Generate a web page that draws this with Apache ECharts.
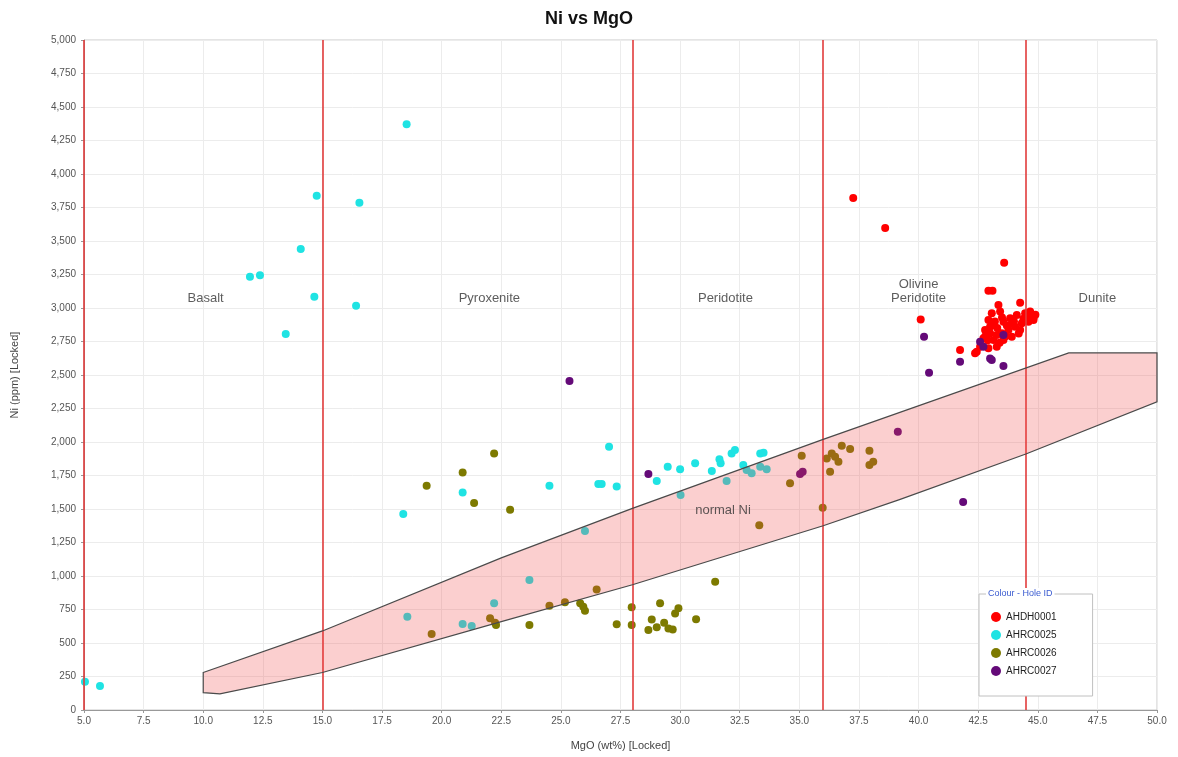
<!DOCTYPE html>
<html>
<head>
<meta charset="utf-8">
<script src="https://cdn.jsdelivr.net/npm/echarts@6/dist/echarts.min.js"></script>
<style>
html,body{margin:0;padding:0;background:#fff;}
#chart{width:1178px;height:757px;}
</style>
</head>
<body>
<div id="chart"></div>
<script>
// ---- data ----
const seriesNames = ['AHDH0001', 'AHRC0025', 'AHRC0026', 'AHRC0027'];

const ahdh0001 = [[37.26,3821],[38.6,3597],[43.59,3338],[42.93,3129],[43.1,3129],[40.09,2915],[44.26,3040],[43.35,3022],[41.74,2687],[43.07,2960],[43.42,2973],[42.93,2910],[43.14,2873],[43.56,2898],[43.84,2923],[44.12,2948],[44.47,2960],[44.68,2973],[44.82,2923],[44.61,2898],[44.33,2886],[44.05,2861],[43.77,2836],[43.49,2811],[43.28,2799],[43.0,2811],[42.79,2836],[42.72,2774],[43.14,2761],[43.56,2761],[43.91,2786],[44.26,2836],[42.58,2711],[42.93,2699],[43.28,2711],[42.44,2674],[42.37,2662],[44.82,2910],[44.9,2950],[43.7,2870],[43.3,2850],[42.9,2760],[44.4,2920],[43.95,2880],[43.5,2930],[44.0,2900],[44.6,2940],[43.2,2900],[42.8,2790],[43.4,2740],[44.2,2810],[44.85,2945],[43.0,2860],[43.65,2790]];

const ahrc0025 = [[5.04,211],[5.67,179],[11.96,3234],[12.38,3245],[13.46,2806],[14.09,3440],[14.66,3084],[14.76,3838],[16.41,3017],[16.55,3786],[18.53,4371],[18.39,1463],[20.88,1624],[24.52,1674],[27.02,1965],[26.57,1687],[26.71,1687],[27.34,1667],[26.01,1336],[23.68,970],[22.20,796],[18.56,696],[20.88,642],[21.26,627],[29.02,1709],[29.48,1816],[30.0,1796],[30.63,1841],[31.33,1784],[31.65,1871],[31.70,1841],[32.16,1915],[32.30,1940],[32.65,1828],[32.79,1791],[33.0,1766],[31.95,1709],[33.36,1915],[33.5,1920],[33.36,1816],[33.63,1796],[30.02,1604]];

const ahrc0026 = [[19.37,1674],[20.88,1773],[21.36,1545],[22.2,1915],[22.87,1495],[19.58,567],[22.03,684],[22.24,651],[22.28,634],[23.68,634],[24.52,778],[25.17,804],[25.81,796],[25.94,771],[26.01,741],[26.5,900],[27.34,639],[27.97,766],[27.97,634],[29.16,796],[28.81,676],[28.67,597],[29.02,617],[29.33,651],[29.51,609],[29.69,600],[29.93,759],[29.79,721],[30.67,677],[31.47,957],[33.32,1378],[34.61,1692],[35.1,1898],[35.98,1510],[36.15,1876],[36.36,1915],[36.50,1890],[36.64,1853],[36.29,1778],[36.78,1972],[37.13,1948],[37.94,1935],[37.94,1828],[38.1,1853]];

const ahrc0027 = [[25.36,2455],[28.67,1761],[35.03,1761],[35.14,1778],[39.13,2077],[41.87,1552],[40.23,2786],[40.44,2517],[41.74,2599],[42.58,2749],[42.72,2711],[43.0,2624],[43.07,2612],[43.56,2567],[43.56,2799]];

// normal Ni envelope
const normalNiUpper = [[10,280],[15,590],[22.5,1135],[28,1505],[36,2020],[46.3,2665],[50,2665]];
const normalNiLower = [[10,130],[10.7,120],[15,280],[22.5,660],[28,935],[36,1375],[39.2,1570],[44.5,1910],[50,2300]];

// rock-type boundaries (MgO wt%)
const boundaries = [5, 15, 28, 36, 44.5];

// zone labels [x, y, text]
const zoneLabels = [[10.1,3075,'Basalt'],[22.0,3075,'Pyroxenite'],[31.9,3075,'Peridotite'],[40.0,3120,'Olivine\nPeridotite'],[47.5,3075,'Dunite'],[31.8,1490,'normal Ni']];

const xMin = 5, xMax = 50, xInterval = 2.5;
const yMin = 0, yMax = 5000, yInterval = 250;

// ---- chart ----
const chart = echarts.init(document.getElementById('chart'), null, {renderer: 'canvas'});
const colors = ['#ff0000', '#1fe3e3', '#7d7a00', '#640a78'];
const font = 'Liberation Sans, Arial, sans-serif';

function scatterSeries(name, data, color) {
  return {
    name: name, type: 'scatter', data: data, symbol: 'circle', symbolSize: 8,
    itemStyle: {color: color, opacity: 1}, z: 3
  };
}

const polygonPts = normalNiUpper.concat(normalNiLower.slice().reverse());

const option = {
  animation: false,
  backgroundColor: '#fff',
  textStyle: {fontFamily: font},
  title: [
    {text: 'Ni vs MgO', left: 'center', top: 5, textStyle: {fontSize: 18, fontWeight: 'bold', color: '#111', fontFamily: font}},
    {text: 'Colour - Hole ID', left: 986, top: 588, z: 20, backgroundColor: '#fff', padding: [1, 2],
     textStyle: {fontSize: 9, fontWeight: 'normal', color: '#3a5bd0', fontFamily: font}}
  ],
  grid: {left: 84, right: 21, top: 40, bottom: 47, show: true, borderColor: '#c8c8c8', borderWidth: 1},
  legend: {
    data: seriesNames, orient: 'vertical', left: 979, top: 594,
    padding: [18, 36, 20, 12], itemGap: 8, itemWidth: 10, itemHeight: 10, icon: 'circle',
    borderColor: '#c0c0c0', borderWidth: 1, backgroundColor: '#fff',
    textStyle: {fontSize: 10, color: '#222', fontFamily: font}, z: 10
  },
  xAxis: {
    type: 'value', min: xMin, max: xMax, interval: xInterval,
    name: 'MgO (wt%) [Locked]', nameLocation: 'middle', nameGap: 30,
    nameTextStyle: {fontSize: 11, color: '#444'},
    axisLine: {lineStyle: {color: '#999'}},
    axisTick: {show: true, length: 3, lineStyle: {color: '#999'}},
    axisLabel: {fontSize: 10, color: '#555', formatter: v => v.toFixed(1), margin: 6},
    splitLine: {show: true, lineStyle: {color: '#ececec', width: 1}}
  },
  yAxis: {
    type: 'value', min: yMin, max: yMax, interval: yInterval,
    name: 'Ni (ppm) [Locked]', nameLocation: 'middle', nameGap: 64,
    nameTextStyle: {fontSize: 11, color: '#444'},
    axisLine: {show: true, lineStyle: {color: '#999'}},
    axisTick: {show: true, length: 3, lineStyle: {color: '#999'}},
    axisLabel: {fontSize: 10, color: '#555', formatter: v => v.toLocaleString('en-US'), margin: 8},
    splitLine: {show: true, lineStyle: {color: '#ececec', width: 1}}
  },
  series: [
    scatterSeries(seriesNames[0], ahdh0001, colors[0]),
    scatterSeries(seriesNames[1], ahrc0025, colors[1]),
    scatterSeries(seriesNames[2], ahrc0026, colors[2]),
    scatterSeries(seriesNames[3], ahrc0027, colors[3]),
    {
      name: 'normalNi', type: 'custom', silent: true, z: 5,
      data: [0],
      renderItem: function (params, api) {
        const pts = polygonPts.map(p => api.coord(p));
        return {
          type: 'polygon',
          shape: {points: pts},
          style: {fill: 'rgba(240,70,70,0.26)', stroke: '#4a4a4a', lineWidth: 1.2}
        };
      }
    },
    {
      name: 'boundaries', type: 'line', data: [], silent: true, z: 6,
      markLine: {
        symbol: 'none', silent: true, label: {show: false},
        lineStyle: {color: 'rgba(225,60,60,0.8)', width: 2, type: 'solid'},
        data: boundaries.map(b => ({xAxis: b}))
      }
    },
    {
      name: 'zones', type: 'scatter', silent: true, symbolSize: 0, z: 7,
      data: zoneLabels.map(z => ({value: [z[0], z[1]], name: z[2]})),
      label: {show: true, position: 'inside', formatter: p => p.name,
              fontSize: 13, color: '#333', lineHeight: 14, fontFamily: font}
    }
  ]
};
chart.setOption(option);
</script>
</body>
</html>
